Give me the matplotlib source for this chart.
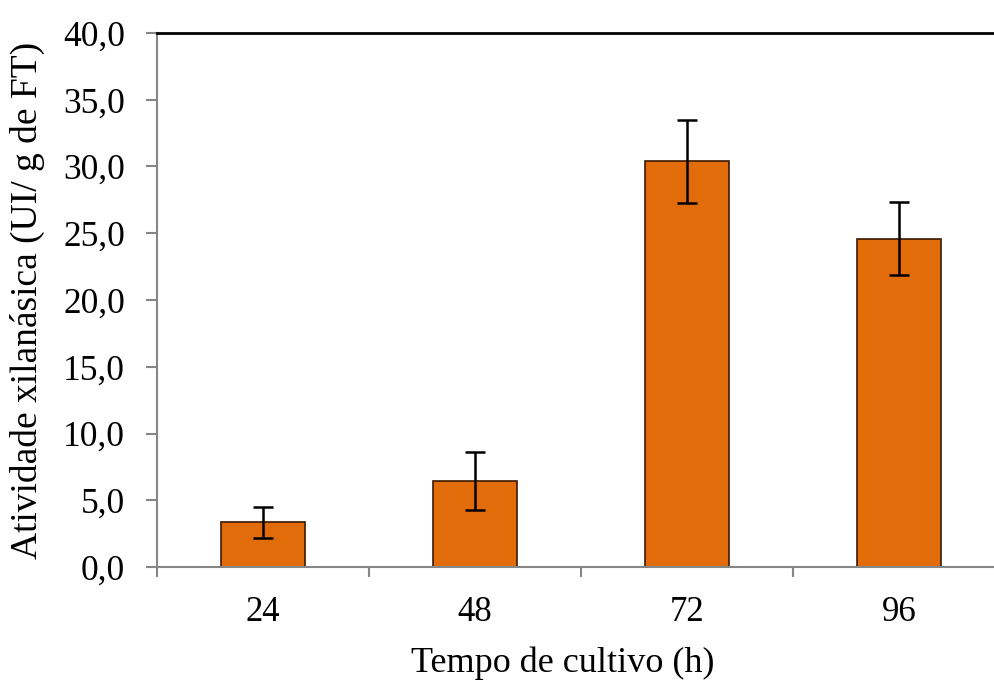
import matplotlib
matplotlib.use('Agg')
import matplotlib.pyplot as plt
from matplotlib.ticker import FuncFormatter, FixedLocator

# Dados
tempos = ['24', '48', '72', '96']
atividade = [3.35, 6.45, 30.4, 24.6]
erro = [1.17, 2.17, 3.12, 2.75]

BAR_COLOR = "#E36C0A"
AXIS_COLOR = "#868686"

plt.rcParams['font.family'] = ['Liberation Serif', 'DejaVu Serif']

fig = plt.figure(figsize=(9.95, 6.8), dpi=100)
ax = fig.add_axes([157 / 995, 1 - 567 / 680, 848 / 995, 534 / 680])

x = range(len(tempos))
ax.bar(x, atividade, width=0.4, color=BAR_COLOR, edgecolor="#3a1a00", linewidth=1.2,
       yerr=erro, capsize=7, error_kw=dict(ecolor='black', elinewidth=1.8, capthick=1.8), zorder=2)

ax.set_xlim(-0.5, len(tempos) - 0.5)
ax.set_ylim(0, 40)
ax.set_yticks([0, 5, 10, 15, 20, 25, 30, 35, 40])
ax.yaxis.set_major_formatter(FuncFormatter(lambda v, p: f"{v:.1f}".replace('.', ',')))

# Rotulos das categorias no centro, marcas entre categorias
ax.set_xticks(list(x))
ax.set_xticklabels(tempos)
ax.tick_params(axis='x', which='major', length=0, labelsize=25, pad=21)
ax.xaxis.set_minor_locator(FixedLocator([-0.5, 0.5, 1.5, 2.5, 3.5]))
ax.tick_params(axis='x', which='minor', length=7, width=1.5, color=AXIS_COLOR)
ax.tick_params(axis='y', length=8, width=1.5, color=AXIS_COLOR, labelsize=25.5, pad=15)

for side in ['left', 'bottom']:
    ax.spines[side].set_color(AXIS_COLOR)
    ax.spines[side].set_linewidth(1.5)
ax.spines['right'].set_visible(False)
ax.spines['top'].set_color('black')
ax.spines['top'].set_linewidth(2)

ax.set_xlabel('Tempo de cultivo (h)', fontsize=26)
ax.xaxis.label.set_verticalalignment('center')
ax.xaxis.set_label_coords(0.478, -0.180)
ax.set_ylabel('Atividade xilanásica (UI/ g de FT)', fontsize=27)
ax.yaxis.label.set_verticalalignment('center')
ax.yaxis.set_label_coords(-0.153, 0.5)

fig.savefig('out.png', dpi=100)
